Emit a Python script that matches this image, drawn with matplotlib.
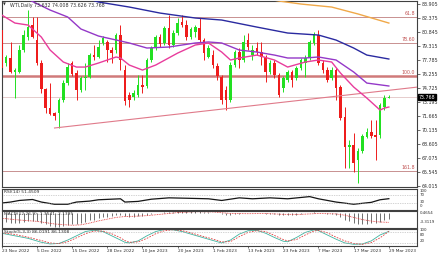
import numpy as np
import matplotlib.pyplot as plt

# ---- data (WTI daily, 23 Nov 2022 - 29 Mar 2023) ----
opens = [81.10, 77.49, 78.04, 76.51, 76.51, 78.91, 80.33, 81.64, 80.00, 77.49,
         74.65, 72.57, 72.03, 72.03, 73.45, 75.30, 77.49, 76.40, 74.54, 75.85,
         75.96, 78.36, 78.15, 79.68, 79.79, 78.91, 78.91, 80.55, 76.72, 73.99,
         73.77, 73.99, 75.08, 74.98, 77.82, 79.13, 80.33, 79.68, 81.31, 79.46,
         80.77, 81.97, 81.64, 80.33, 80.88, 81.31, 80.00, 78.15, 78.36, 77.16,
         75.96, 74.54, 73.45, 77.27, 78.69, 77.82, 80.00, 78.36, 79.13, 78.69,
         78.15, 76.51, 77.49, 76.18, 74.76, 75.63, 76.51, 75.85, 76.94, 77.49,
         78.04, 79.68, 80.55, 77.49, 76.72, 75.85, 76.72, 74.87, 71.59, 68.31,
         68.53, 66.89, 67.87, 69.40, 69.95, 69.62, 69.62, 72.68, 73.632]
highs = [81.31, 78.36, 79.79, 76.94, 79.46, 81.10, 83.28, 82.52, 82.52, 77.82,
         74.76, 75.30, 72.14, 73.66, 75.63, 77.49, 77.71, 76.72, 76.07, 77.49,
         78.58, 79.46, 80.00, 80.44, 80.00, 79.24, 80.77, 81.64, 77.27, 74.32,
         74.54, 76.18, 76.18, 78.04, 79.35, 80.55, 80.66, 81.53, 82.74, 81.10,
         82.41, 82.74, 82.19, 81.42, 81.64, 82.41, 80.22, 79.46, 78.91, 77.49,
         76.18, 74.98, 77.60, 78.91, 79.13, 80.55, 80.77, 79.46, 79.79, 79.79,
         78.36, 77.82, 77.82, 76.40, 76.07, 76.72, 76.72, 77.16, 78.04, 78.36,
         80.00, 80.88, 81.10, 77.82, 77.05, 77.05, 76.94, 75.08, 72.68, 69.07,
         69.84, 68.20, 69.73, 70.39, 71.26, 71.26, 73.12, 73.99, 74.008]
lows = [76.72, 77.16, 76.40, 73.66, 76.40, 78.69, 80.00, 80.22, 77.27, 74.21,
        72.03, 71.81, 71.26, 70.39, 73.23, 75.08, 76.07, 73.45, 74.32, 74.54,
        75.85, 77.82, 78.04, 79.46, 77.60, 77.49, 78.58, 76.72, 72.90, 72.68,
        73.45, 73.77, 74.21, 74.76, 77.60, 78.91, 79.24, 79.46, 79.13, 79.24,
        80.55, 81.42, 80.00, 80.11, 80.33, 79.79, 77.82, 78.04, 76.94, 75.63,
        73.01, 72.35, 73.23, 77.05, 76.94, 77.60, 78.91, 77.82, 78.36, 77.27,
        75.41, 76.29, 75.85, 73.77, 74.32, 75.41, 74.87, 75.63, 76.72, 75.96,
        77.82, 79.46, 77.27, 76.40, 75.41, 75.63, 73.45, 71.26, 66.01, 66.01,
        65.57, 64.37, 67.65, 69.29, 69.29, 66.89, 69.29, 72.35, 73.626]
closes = [76.94, 78.15, 76.51, 76.72, 78.91, 80.55, 81.42, 80.33, 77.49, 74.65,
          72.57, 71.92, 71.70, 73.45, 75.30, 77.05, 76.29, 74.54, 75.85, 75.96,
          78.36, 78.15, 79.24, 80.22, 78.91, 78.58, 80.55, 77.82, 73.34, 73.45,
          74.21, 75.08, 74.87, 77.82, 79.13, 80.33, 79.57, 81.31, 79.46, 80.77,
          81.86, 81.64, 80.33, 81.21, 81.42, 80.00, 78.58, 79.13, 77.27, 76.07,
          73.45, 73.45, 77.27, 78.69, 77.82, 79.79, 79.24, 78.91, 78.69, 78.15,
          76.51, 77.49, 76.18, 73.99, 75.85, 76.51, 75.63, 76.94, 77.82, 78.04,
          79.79, 80.55, 77.49, 76.72, 75.63, 76.72, 74.76, 71.48, 68.31, 68.53,
          66.56, 67.87, 69.51, 69.95, 69.51, 69.40, 72.90, 73.66, 73.768]

date_idx = [0, 8, 16, 24, 32, 40, 48, 56, 64, 72, 80, 88]
date_labels = ['23 Nov 2022', '5 Dec 2022', '15 Dec 2022', '28 Dec 2022',
               '10 Jan 2023', '20 Jan 2023', '1 Feb 2023', '13 Feb 2023',
               '23 Feb 2023', '7 Mar 2023', '17 Mar 2023', '29 Mar 2023']

price_ticks = [83.905, 82.375, 80.845, 79.315, 77.785, 76.255, 74.725,
               73.195, 71.665, 70.135, 68.605, 67.075, 65.545, 64.015]

# moving averages (sampled points)
ma20_idx = [0, 3, 6, 9, 11, 14, 17, 19, 22, 26, 27, 29, 32, 35, 40, 44, 47, 50,
            52, 54, 58, 62, 65, 69, 72, 75, 77, 80, 83, 86, 87, 88]
ma20_val = [82.74, 81.86, 81.64, 80.33, 78.91, 77.60, 77.05, 77.05, 77.49, 78.15,
            78.04, 77.27, 76.72, 77.27, 78.58, 79.46, 79.68, 78.69, 77.82, 78.04,
            78.36, 77.82, 77.05, 77.60, 77.82, 77.60, 76.40, 74.87, 73.66, 72.35,
            72.57, 72.68]
ma50_idx = [6, 11, 15, 18, 22, 29, 33, 38, 44, 47, 50, 54, 58, 62, 65, 69, 72,
            76, 80, 83, 88]
ma50_val = [84.45, 83.28, 82.52, 81.21, 80.44, 79.68, 79.13, 79.24, 79.68, 79.79,
            79.68, 78.91, 78.69, 78.36, 78.04, 78.04, 78.15, 77.82, 76.51, 75.30,
            74.98]
ma100_idx = [20, 22, 29, 36, 44, 50, 58, 65, 72, 76, 80, 83, 88]
ma100_val = [84.45, 84.16, 83.61, 82.95, 82.41, 82.19, 81.42, 80.77, 80.55, 80.00,
             79.13, 78.36, 77.93]
ma200_idx = [61, 63, 68, 75, 81, 88]
ma200_val = [84.45, 84.27, 83.94, 83.61, 82.85, 81.86]

fib_levels = [82.52, 79.68, 76.07, 65.69]
fib_labels = ['61.8', '78.60', '100.0', '161.8']

trend_idx = [12, 88]
trend_val = [70.39, 74.51]

last_price = 73.768

rsi_idx = [0, 2, 4, 7, 9, 12, 15, 17, 20, 22, 27, 28, 31, 34, 38, 42, 47, 50,
           54, 57, 61, 65, 70, 72, 76, 80, 84, 86, 88]
rsi_val = [30.9, 35.5, 43.0, 47.7, 35.5, 25.0, 25.0, 35.5, 40.0, 46.4, 51.0, 35.5,
           38.6, 49.0, 55.5, 53.6, 51.0, 43.0, 55.5, 51.0, 55.5, 51.0, 61.4, 51.0,
           35.5, 25.0, 34.0, 46.4, 51.45]

macd_main = [-2.0, -2.1, -2.2, -2.3, -2.2, -2.1, -1.9, -1.8, -1.9, -2.2,
             -2.6, -3.0, -3.3, -3.2, -3.0, -2.7, -2.5, -2.4, -2.2, -2.0,
             -1.7, -1.5, -1.2, -0.9, -0.8, -0.7, -0.5, -0.5, -0.7, -0.8,
             -0.8, -0.7, -0.6, -0.4, -0.2, 0.0, 0.1, 0.25, 0.3, 0.35,
             0.4, 0.45, 0.4, 0.4, 0.42, 0.38, 0.25, 0.2, 0.1, -0.05,
             -0.3, -0.5, -0.4, -0.25, -0.2, -0.05, 0.0, 0.0, 0.02, 0.0,
             -0.15, -0.2, -0.3, -0.5, -0.5, -0.45, -0.45, -0.35, -0.2, -0.1,
             0.05, 0.2, 0.05, -0.1, -0.25, -0.3, -0.5, -0.9, -1.5, -1.9,
             -2.3, -2.5, -2.5, -2.4, -2.35, -2.3, -1.95, -1.6, -1.3541]
sig_idx = [0, 4, 8, 12, 16, 18, 20, 22, 24, 26, 28, 30, 33, 36, 40, 44, 48, 52,
           56, 60, 64, 68, 72, 76, 78, 80, 82, 84, 86, 88]
sig_val = [-1.2, -1.6, -1.9, -2.5, -2.8, -2.7, -2.3, -1.8, -1.4, -1.0, -0.8, -0.75,
           -0.6, -0.3, 0.1, 0.3, 0.25, -0.1, -0.15, -0.1, -0.3, -0.3, -0.1, -0.2,
           -0.5, -1.0, -1.5, -1.85, -2.05, -2.1395]

sto_idx = [0, 3, 6, 9, 11, 13, 15, 17, 19, 21, 23, 25, 27, 28, 29, 31, 33, 35,
           37, 39, 41, 43, 45, 47, 49, 50, 52, 54, 56, 58, 60, 62, 64, 65, 67,
           69, 71, 72, 74, 76, 78, 80, 82, 84, 86, 88]
sto_main = [75, 60, 45, 22, 12, 15, 35, 60, 85, 93, 85, 60, 35, 22, 18, 30, 60,
            85, 97, 95, 85, 70, 55, 40, 25, 18, 35, 70, 90, 92, 75, 50, 28, 25,
            50, 80, 95, 90, 65, 40, 18, 10, 12, 30, 65, 86.02]
sto_sig = [78, 68, 52, 32, 18, 14, 25, 48, 72, 88, 88, 72, 48, 32, 22, 24, 45,
           72, 90, 96, 90, 78, 62, 48, 33, 24, 26, 55, 80, 90, 85, 62, 38, 30,
           38, 65, 88, 92, 78, 52, 30, 15, 10, 20, 48, 86.13]

# ---- layout (pixel boxes) ----
W, H = 440, 254
fig = plt.figure(figsize=(W / 100, H / 100), dpi=100)
fig.patch.set_facecolor('white')


def box(x0, y0, x1, y1):
    return [x0 / W, 1 - y1 / H, (x1 - x0) / W, (y1 - y0) / H]


ax = fig.add_axes(box(1.5, 1, 417, 187))
ax_rsi = fig.add_axes(box(1.5, 188.5, 417, 209.5), sharex=ax)
ax_macd = fig.add_axes(box(1.5, 211, 417, 227.5), sharex=ax)
ax_st = fig.add_axes(box(1.5, 229, 417, 246), sharex=ax)

txt = '#303030'
fs = 3.4
for a in (ax, ax_rsi, ax_macd, ax_st):
    for s in a.spines.values():
        s.set_color('#404040')
        s.set_linewidth(0.8)
    a.tick_params(axis='x', bottom=False, labelbottom=False)
    a.set_yticks([])

xlim = (-0.05, 94.4)
ax.set_xlim(*xlim)

# ---- main panel ----
idx = np.arange(len(opens))
o = np.array(opens)
c = np.array(closes)
up = c >= o
cols = np.where(up, '#22e022', '#ee1c1c')
body = np.where(np.abs(c - o) < 0.07, 0.07, np.abs(c - o))
ax.vlines(idx, lows, highs, colors=cols, lw=0.7, zorder=2)
ax.bar(idx, body, bottom=np.minimum(o, c), width=0.6, color=cols, linewidth=0, zorder=3)

for lv, lb in zip(fib_levels, fib_labels):
    thick = lb == '100.0'
    ax.axhline(lv, color='#d07a7a' if thick else '#c89090', lw=1.8 if thick else 0.7, zorder=1)
    ax.text(xlim[1] - 0.4, lv + 0.08, lb, ha='right', va='bottom', fontsize=fs, color='#c05050')

ax.axhline(last_price, color='#e2c4c4', lw=0.6, zorder=1)

slope = (trend_val[1] - trend_val[0]) / (trend_idx[1] - trend_idx[0])
ax.plot([trend_idx[0], xlim[1]], [trend_val[0], trend_val[0] + slope * (xlim[1] - trend_idx[0])],
        color='#e07a8a', lw=0.8, zorder=4)

ax.plot(ma200_idx, ma200_val, color='#f0a848', lw=1.0, zorder=5)
ax.plot(ma100_idx, ma100_val, color='#2a2aa0', lw=1.0, zorder=5)
ax.plot(ma50_idx, ma50_val, color='#9438c8', lw=1.0, zorder=5)
ax.plot(ma20_idx, ma20_val, color='#e83c9c', lw=1.0, zorder=5)

ax.set_ylim(63.94, 84.27)
ax.yaxis.tick_right()
ax.set_yticks(price_ticks)
ax.set_yticklabels([f'{v:.3f}' for v in price_ticks])
ax.tick_params(axis='y', length=2, width=0.5, pad=1.5, labelsize=fs, colors=txt)

ax.text(1.003, last_price, f'{last_price:.3f}', transform=ax.get_yaxis_transform(),
        ha='left', va='center', fontsize=fs, color='white',
        bbox=dict(boxstyle='square,pad=0.15', fc='black', ec='black'))

fig.text(3 / W, 1 - 5 / H, '\u25bc', fontsize=2.6, color=txt, va='center')
fig.text(10 / W, 1 - 5 / H, 'WTI,Daily 73.632 74.008 73.626 73.768',
         fontsize=fs, color=txt, va='center')

# ---- RSI ----
ax_rsi.plot(rsi_idx, rsi_val, color='#151515', lw=0.9)
for lv in (70, 30):
    ax_rsi.axhline(lv, color='#a8a8a8', lw=0.5, ls=(0, (1, 1.5)))
ax_rsi.set_ylim(0, 100)
ax_rsi.text(0.006, 0.85, 'RSI(14) 51.4509', transform=ax_rsi.transAxes,
            fontsize=3.2, color=txt, va='center')

# ---- MACD ----
ax_macd.vlines(idx, 0, macd_main, colors='#6e6e6e', lw=0.7)
ax_macd.plot(sig_idx, sig_val, color='#e03030', lw=0.6, ls=(0, (1, 1)))
ax_macd.set_ylim(-3.3119, 0.4654)
ax_macd.text(0.006, 0.82, 'MACD(12,26,9) -1.3541 -2.1395', transform=ax_macd.transAxes,
             fontsize=3.2, color=txt, va='center')

# ---- Stochastic ----
ax_st.plot(sto_idx, sto_main, color='#40b4a0', lw=0.6)
ax_st.plot(sto_idx, sto_sig, color='#e04040', lw=0.6, ls=(0, (2, 1.5)))
for lv in (80, 20):
    ax_st.axhline(lv, color='#a8a8a8', lw=0.5, ls=(0, (1, 1.5)))
ax_st.set_ylim(0, 100)
ax_st.text(0.006, 0.84, 'Stoch(5,3,3) 86.0191 86.1308', transform=ax_st.transAxes,
           fontsize=3.2, color=txt, va='center')

# right-side scale labels of the indicator windows
side = [('100', 190.6), ('70', 195.2), ('30', 201.6), ('0', 206.3),
        ('0.4654', 213), ('-3.3119', 221.7),
        ('100', 230.2), ('80', 234.6), ('20', 241.5)]
for s, yp in side:
    fig.text(420 / W, 1 - yp / H, s, fontsize=2.9, color=txt, va='center')

ax_st.set_xticks(date_idx)
ax_st.set_xticklabels(date_labels)
ax_st.tick_params(axis='x', bottom=True, labelbottom=True, length=1.5, width=0.5,
                  pad=1, labelsize=3.1, colors=txt)
for t in ax_st.get_xticklabels():
    t.set_horizontalalignment('left')

fig.savefig('out.png', dpi=100, facecolor='white')
